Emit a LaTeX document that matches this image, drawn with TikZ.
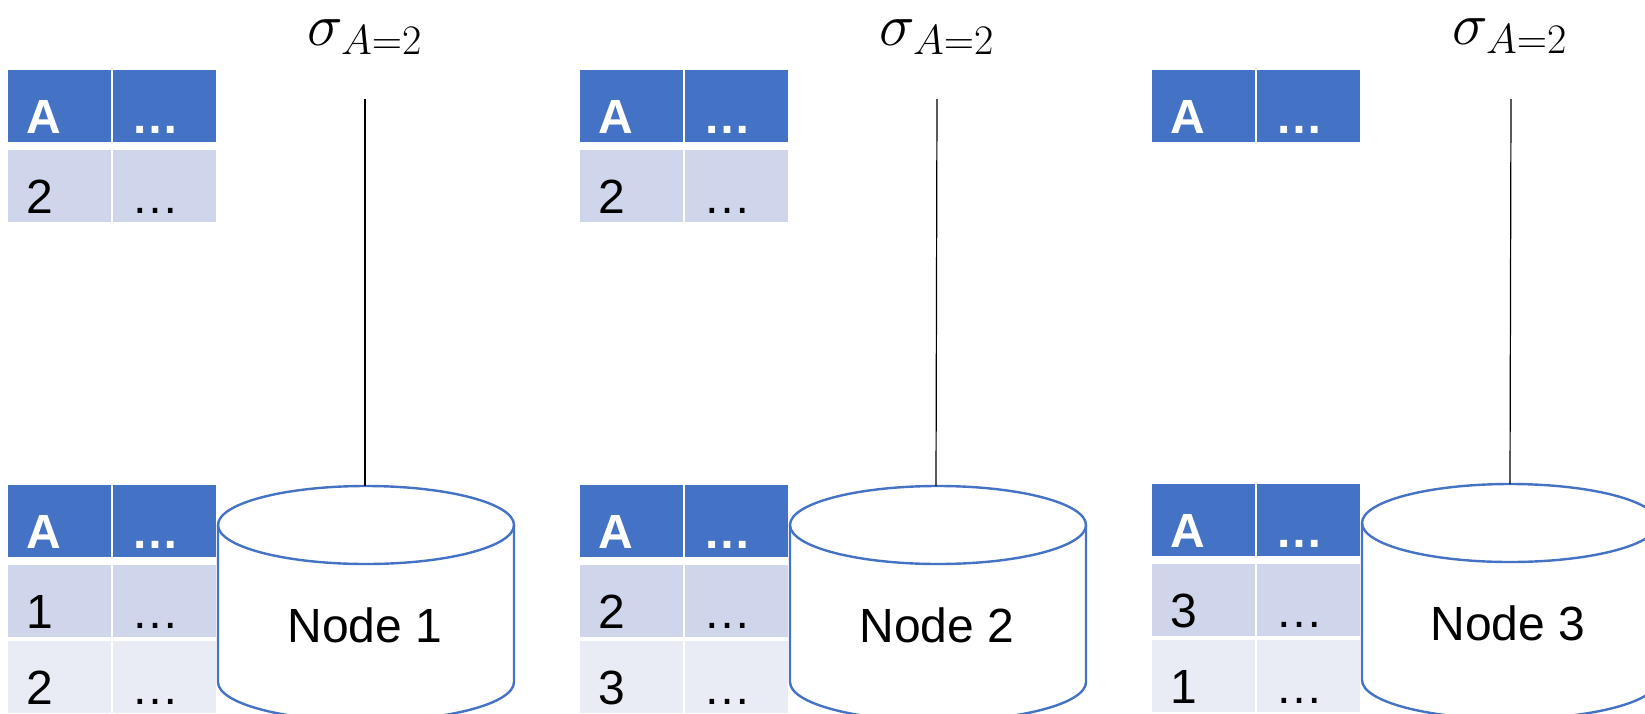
\RequirePackage{fix-cm}
\documentclass[tikz,border=0pt]{standalone}
\usepackage{amsmath}
\usepackage{fontspec}
\setmainfont{Liberation Sans}
\definecolor{headblue}{HTML}{4472C4}
\definecolor{rowdark}{HTML}{CFD5EA}
\definecolor{rowlight}{HTML}{E9EBF5}
\tikzset{
	cell/.style={anchor=north west, minimum width=51.5pt, minimum height=36pt,
		inner xsep=9pt, inner ysep=0pt, text width=33.5pt, align=left,
		text height=27pt, text depth=0pt, font=\fontsize{24}{28}\selectfont},
	head/.style={cell, fill=headblue, text=white,
		font=\fontsize{24}{28}\selectfont\bfseries},
	odd/.style={cell, fill=rowdark},
	even/.style={cell, fill=rowlight},
	disk/.style={draw=headblue, line width=1.2pt},
	wire/.style={line width=0.6pt},
	sel/.style={anchor=base, inner sep=0pt, font=\fontsize{30}{36}\selectfont},
	lbl/.style={anchor=base, font=\fontsize{24}{28}\selectfont}
}

\begin{document}
\begin{tikzpicture}[x=0.5pt, y=-0.5pt]
	\useasboundingbox (0,0) rectangle (1645,713);

	% node 1
	\node (t1h1) [head] at (8,70) {A};
	\node (t1h2) [head] at (113,70) {…};
	\node (t1a1) [odd] at (8,150) {2};
	\node (t1a2) [odd] at (113,150) {…};
	\node (b1h1) [head] at (8,485) {A};
	\node (b1h2) [head] at (113,485) {…};
	\node (b1a1) [odd] at (8,565) {1};
	\node (b1a2) [odd] at (113,565) {…};
	\node (b1b1) [even] at (8,641) {2};
	\node (b1b2) [even] at (113,641) {…};
	\draw [disk] (218,525) -- (218,682)
		arc [start angle=180, end angle=360, x radius=74pt, y radius=19.5pt]
		-- (514,525);
	\draw [disk] (366,525) ellipse [x radius=74pt, y radius=19.5pt];
	\node (disk1) [lbl] at (365,642) {Node 1};
	\node (sel1) [sel] at (365,45) {$ \sigma_{A=2} $};
	\coordinate (in1) at (365,99);
	\coordinate (top1) at (365,486);
	\draw [wire] (in1) -- (top1);

	% node 2
	\node (t2h1) [head] at (580,70) {A};
	\node (t2h2) [head] at (685,70) {…};
	\node (t2a1) [odd] at (580,150) {2};
	\node (t2a2) [odd] at (685,150) {…};
	\node (b2h1) [head] at (580,485) {A};
	\node (b2h2) [head] at (685,485) {…};
	\node (b2a1) [odd] at (580,565) {2};
	\node (b2a2) [odd] at (685,565) {…};
	\node (b2b1) [even] at (580,641) {3};
	\node (b2b2) [even] at (685,641) {…};
	\draw [disk] (790,525) -- (790,682)
		arc [start angle=180, end angle=360, x radius=74pt, y radius=19.5pt]
		-- (1086,525);
	\draw [disk] (938,525) ellipse [x radius=74pt, y radius=19.5pt];
	\node (disk2) [lbl] at (937,642) {Node 2};
	\node (sel2) [sel] at (937,45) {$ \sigma_{A=2} $};
	\coordinate (in2) at (937,99);
	\coordinate (top2) at (936,486);
	\draw [wire] (in2) -- (top2);

	% node 3
	\node (t3h1) [head] at (1152,70) {A};
	\node (t3h2) [head] at (1257,70) {…};
	\node (b3h1) [head] at (1152,484) {A};
	\node (b3h2) [head] at (1257,484) {…};
	\node (b3a1) [odd] at (1152,564) {3};
	\node (b3a2) [odd] at (1257,564) {…};
	\node (b3b1) [even] at (1152,640) {1};
	\node (b3b2) [even] at (1257,640) {…};
	\draw [disk] (1362,523) -- (1362,680)
		arc [start angle=180, end angle=360, x radius=74pt, y radius=19.5pt]
		-- (1658,523);
	\draw [disk] (1510,523) ellipse [x radius=74pt, y radius=19.5pt];
	\node (disk3) [lbl] at (1508,640) {Node 3};
	\node (sel3) [sel] at (1510,44) {$ \sigma_{A=2} $};
	\coordinate (in3) at (1511,99);
	\coordinate (top3) at (1510,484);
	\draw [wire] (in3) -- (top3);
\end{tikzpicture}
\end{document}
